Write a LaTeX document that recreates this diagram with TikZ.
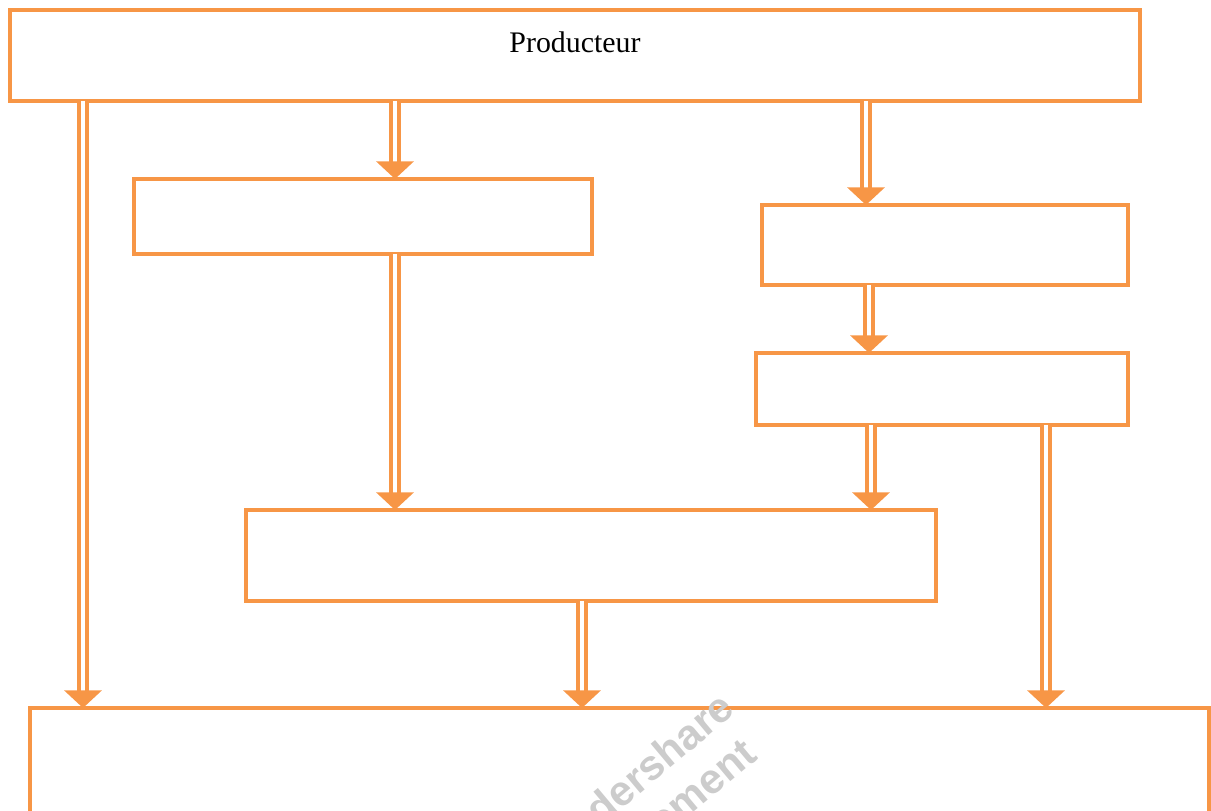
\documentclass[tikz,border=0pt]{standalone}
\usepackage{fontspec}
\setmainfont{Liberation Serif}
\newfontfamily\wmfont{Liberation Sans}
\usetikzlibrary{arrows.meta}
\definecolor{boxorange}{RGB}{247,150,70}
\begin{document}
\begin{tikzpicture}[x=0.02cm,y=-0.02cm,
	box/.style={draw=boxorange,line width=2.3pt,inner sep=0pt,outer sep=0pt},
	dbl/.style={draw=boxorange,line width=2.1pt,double=white,double distance=2.4pt,-{Triangle[width=21pt,length=10pt]}}]
	\useasboundingbox (0,0) rectangle (1211,811);
	\node[box,minimum width=22.6cm,minimum height=1.82cm] at (575,55.5) (prod) {};
	\node at (575,42) (prodtxt) {\fontsize{17}{20}\selectfont Producteur};
	\node[box,minimum width=9.16cm,minimum height=1.5cm] at (363,216.5) (a) {};
	\node[box,minimum width=7.32cm,minimum height=1.6cm] at (945,245) (b) {};
	\node[box,minimum width=7.44cm,minimum height=1.44cm] at (942,389) (c) {};
	\node[box,minimum width=13.8cm,minimum height=1.82cm] at (591,555.5) (d) {};
	\node[box,minimum width=23.58cm,minimum height=2.44cm] at (619.5,769) (e) {};
	\node[rotate=40,align=center,text=black!20,font=\wmfont\bfseries\fontsize{24}{28}\selectfont] at (640,806) (wm) {Wondershare\\PDFelement};
	\coordinate (x1) at (83,0);
	\coordinate (x2) at (395,0);
	\coordinate (x3) at (866,0);
	\coordinate (x4) at (869,0);
	\coordinate (x5) at (871,0);
	\coordinate (x6) at (1046,0);
	\coordinate (x7) at (582,0);
	\draw[dbl] (prod.south -| x1) -- (e.north -| x1);
	\draw[dbl] (prod.south -| x2) -- (a.north -| x2);
	\draw[dbl] (prod.south -| x3) -- (b.north -| x3);
	\draw[dbl] (b.south -| x4) -- (c.north -| x4);
	\draw[dbl] (a.south -| x2) -- (d.north -| x2);
	\draw[dbl] (c.south -| x5) -- (d.north -| x5);
	\draw[dbl] (c.south -| x6) -- (e.north -| x6);
	\draw[dbl] (d.south -| x7) -- (e.north -| x7);
\end{tikzpicture}
\end{document}
